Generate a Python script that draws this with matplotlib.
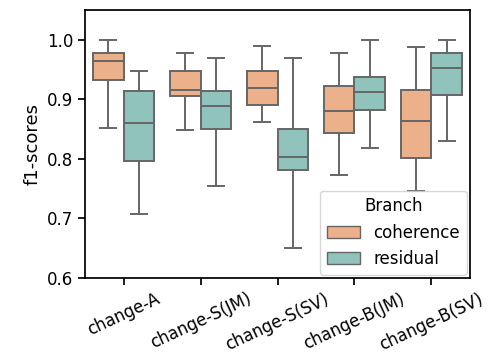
import matplotlib.pyplot as plt
from matplotlib.patches import Patch

categories = ['change-A', 'change-S(JM)', 'change-S(SV)', 'change-B(JM)', 'change-B(SV)']
branches = ['coherence', 'residual']

# summary stats: whislo, q1, median, q3, whishi
coherence_stats = {
    'whislo': [0.852, 0.849, 0.862, 0.773, 0.746],
    'q1':     [0.933, 0.905, 0.891, 0.844, 0.801],
    'med':    [0.964, 0.916, 0.919, 0.880, 0.864],
    'q3':     [0.978, 0.947, 0.947, 0.923, 0.916],
    'whishi': [1.000, 0.978, 0.990, 0.978, 0.988],
}
residual_stats = {
    'whislo': [0.707, 0.754, 0.650, 0.818, 0.831],
    'q1':     [0.796, 0.850, 0.781, 0.882, 0.908],
    'med':    [0.860, 0.889, 0.804, 0.913, 0.952],
    'q3':     [0.914, 0.915, 0.850, 0.937, 0.978],
    'whishi': [0.947, 0.969, 0.969, 1.000, 1.000],
}

colors = ['#ecb08a', '#8fc3bb']
edge = '#666666'


def to_bxp(stats):
    out = []
    for i in range(len(categories)):
        out.append({k: stats[k][i] for k in stats} | {'fliers': []})
    return out


fig = plt.figure(figsize=(4.89, 3.62), dpi=100)
ax = fig.add_axes([0.174, 0.232, 0.787, 0.740])

width = 0.4
for j, (stats, col) in enumerate(zip([coherence_stats, residual_stats], colors)):
    pos = [i - width / 2 + j * width for i in range(len(categories))]
    ax.bxp(to_bxp(stats), positions=pos, widths=width, patch_artist=True,
           showfliers=False, manage_ticks=False,
           boxprops=dict(facecolor=col, edgecolor=edge, linewidth=1.4),
           medianprops=dict(color=edge, linewidth=1.4),
           whiskerprops=dict(color=edge, linewidth=1.4),
           capprops=dict(color=edge, linewidth=1.4),
           capwidths=width / 2)

ax.set_xlim(-0.5, len(categories) - 0.5)
ax.set_ylim(0.6, 1.05)
ax.set_yticks([0.6, 0.7, 0.8, 0.9, 1.0])
ax.set_xticks(range(len(categories)))
ax.set_xticklabels(categories, rotation=25, fontsize=12)
ax.tick_params(axis='both', labelsize=12, width=1.25, length=5)
for sp in ax.spines.values():
    sp.set_linewidth(1.25)
ax.set_ylabel('f1-scores', fontsize=13)

handles = [Patch(facecolor=c, edgecolor=edge, label=b) for c, b in zip(colors, branches)]
ax.legend(handles=handles, title='Branch', loc='lower right', fontsize=12, title_fontsize=12,
          borderaxespad=0.2)

fig.savefig('out.png', dpi=100)
